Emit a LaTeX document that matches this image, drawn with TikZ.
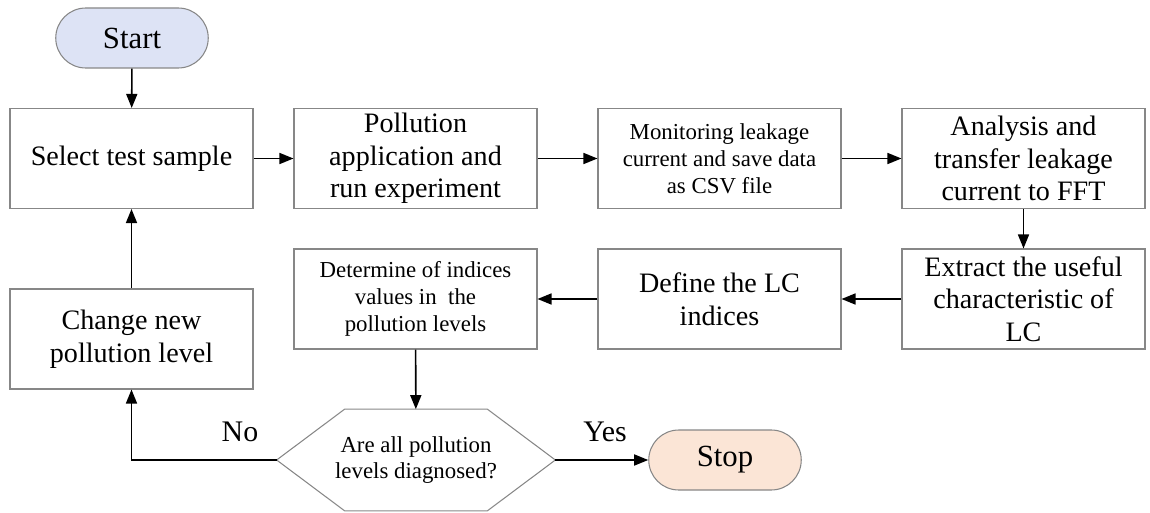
\documentclass[tikz,border=0pt]{standalone}
\usepackage{fontspec}
\setmainfont{Liberation Serif}
\usetikzlibrary{arrows.meta,shapes.misc}

\definecolor{startblue}{RGB}{221,227,245}
\definecolor{stoppeach}{RGB}{251,229,214}
\definecolor{boxgray}{RGB}{135,135,135}

\begin{document}
\begin{tikzpicture}[
	stepbox/.style={draw=boxgray,line width=0.6pt,minimum width=4.86cm,minimum height=2cm,inner sep=0pt,align=center,font=\fontsize{16}{18.5}\selectfont},
	smallbox/.style={stepbox,font=\fontsize{13}{15.5}\selectfont},
	terminal/.style={draw=boxgray,line width=0.6pt,rounded rectangle,minimum width=3.05cm,minimum height=1.2cm,inner sep=0pt,font=\fontsize{17.5}{19}\selectfont},
	decision/.style={minimum width=5.56cm,minimum height=2.02cm,inner sep=0pt,align=center,font=\fontsize{13}{15}\selectfont},
	flow/.style={line width=0.9pt,-{Triangle[length=0.28cm,width=0.22cm]}},
	answer/.style={font=\fontsize{17}{19}\selectfont}]
				\useasboundingbox (0,0) rectangle (23,10.24);
				\node[terminal,fill=startblue] (start) at (2.64,9.48) {Start};
				\node[stepbox] (select) at (2.63,7.07) {Select test sample};
				\node[stepbox] (apply) at (8.31,7.07) {Pollution\\application and\\run experiment};
				\node[smallbox] (monitor) at (14.39,7.07) {Monitoring leakage\\current and save data\\as CSV file};
				\node[stepbox] (analysis) at (20.47,7.07) {Analysis and\\transfer leakage\\current to FFT};
				\node[stepbox] (extract) at (20.47,4.26) {Extract the useful\\characteristic of\\LC};
				\node[stepbox] (define) at (14.39,4.26) {Define the LC\\indices};
				\node[smallbox] (determine) at (8.31,4.26) {Determine of indices\\values in \ the\\pollution levels};
				\node[stepbox] (change) at (2.63,3.46) {Change new\\pollution level};
				\node[decision] (check) at (8.32,1.04) {Are all pollution\\levels diagnosed?};
				\draw[boxgray,line width=0.6pt] (check.west) -- ([xshift=1.36cm]check.north west) -- ([xshift=-1.36cm]check.north east) -- (check.east) -- ([xshift=-1.36cm]check.south east) -- ([xshift=1.36cm]check.south west) -- cycle;
				\node[terminal,fill=stoppeach] (stop) at (14.5,1.04) {Stop};
				\node[answer] (no) at (4.8,1.6) {No};
				\node[answer] (yes) at (12.1,1.6) {Yes};
				\draw[flow] (start) -- (select);
				\draw[flow] (select) -- (apply);
				\draw[flow] (apply) -- (monitor);
				\draw[flow] (monitor) -- (analysis);
				\draw[flow] (analysis) -- (extract);
				\draw[flow] (extract) -- (define);
				\draw[flow] (define) -- (determine);
				\draw[flow] (determine) -- (check);
				\draw[flow] (check.east) -- (stop);
				\draw[flow] (check.west) -| (change);
				\draw[flow] (change) -- (select);
			\end{tikzpicture}
\end{document}
